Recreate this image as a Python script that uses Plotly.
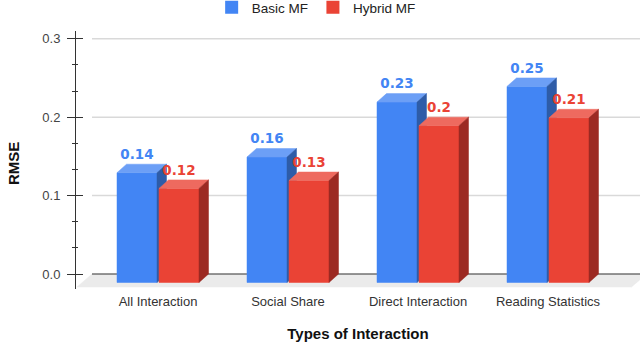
import plotly.graph_objects as go

categories = ["All Interaction", "Social Share", "Direct Interaction", "Reading Statistics"]
basic_mf = [0.14, 0.16, 0.23, 0.25]
hybrid_mf = [0.12, 0.13, 0.20, 0.21]
y_ticks = [0.0, 0.1, 0.2, 0.3]

# colours: front, top, side
BLUE = ("#4285F4", "#6C9FF6", "#2E5CA8")
RED = ("#EA4335", "#EE6A5F", "#9C2A23")
FONT = "Liberation Sans, Arial, sans-serif"

# pixel geometry of the fake 3d look
W, H = 640, 344
L, R, T, B = 76, 0, 31, 55
PX_X = 130.0   # px per category step
PX_Y = 784.3   # px per RMSE unit
ZERO_PX = 274  # screen row of 0.0
FIRST_PX = 158  # screen column of first category

x0 = -(FIRST_PX - L) / PX_X
x1 = x0 + (W - L - R) / PX_X
y1 = (ZERO_PX - T) / PX_Y
y0 = -(H - B - ZERO_PX) / PX_Y

bar_w = 40 / PX_X
gap = 2 / PX_X
dx = 9.5 / PX_X
dy = 8.5 / PX_Y
floor_dx = 15 / PX_X
floor_dy = 13 / PX_Y
back_left = x0 + 16 / PX_X
label_pad = 2 / PX_Y
plot_w, plot_h = W - L - R, H - T - B


def poly(xs, ys, color):
    return go.Scatter(x=xs + [xs[0]], y=ys + [ys[0]], mode="lines", fill="toself",
                      fillcolor=color, line=dict(color=color, width=0.5),
                      hoverinfo="skip", showlegend=False)


def add_bar(fig, xl, v, colors):
    xr = xl + bar_w
    fig.add_trace(poly([xl, xr, xr, xl], [-dy, -dy, v - dy, v - dy], colors[0]))
    fig.add_trace(poly([xl, xr, xr + dx, xl + dx], [v - dy, v - dy, v, v], colors[1]))
    fig.add_trace(poly([xr, xr + dx, xr + dx, xr], [-dy, 0, v, v - dy], colors[2]))


fig = go.Figure()

# floor
fig.add_trace(poly([back_left - floor_dx, back_left, x1 + 0.05, x1 + 0.05 - floor_dx],
                   [-floor_dy, 0, 0, -floor_dy], "#EBEBEB"))

# gridlines
gx, gy = [], []
for t in y_ticks[1:]:
    gx += [back_left, x1, None]
    gy += [t, t, None]
fig.add_trace(go.Scatter(x=gx, y=gy, mode="lines", line=dict(color="#D9D9D9", width=1.5),
                         hoverinfo="skip", showlegend=False))
fig.add_trace(go.Scatter(x=[back_left, x1], y=[0, 0], mode="lines",
                         line=dict(color="#333333", width=1.2), hoverinfo="skip", showlegend=False))

for i in range(len(categories)):
    add_bar(fig, i - gap / 2 - bar_w, basic_mf[i], BLUE)
    add_bar(fig, i + gap / 2, hybrid_mf[i], RED)

# value labels
fig.add_trace(go.Scatter(x=[i - gap / 2 - bar_w / 2 for i in range(len(categories))],
                         y=[v + label_pad for v in basic_mf],
                         mode="text", text=[f"{v:g}" for v in basic_mf], textposition="top center",
                         textfont=dict(family="DejaVu Sans", size=13.5, weight="bold", color=BLUE[0]),
                         hoverinfo="skip", showlegend=False))
fig.add_trace(go.Scatter(x=[i + gap / 2 + bar_w / 2 for i in range(len(categories))],
                         y=[v + label_pad for v in hybrid_mf],
                         mode="text", text=[f"{v:g}" for v in hybrid_mf], textposition="top center",
                         textfont=dict(family="DejaVu Sans", size=13.5, weight="bold", color=RED[0]),
                         hoverinfo="skip", showlegend=False))

# legend entries (a single point parked outside the visible x range)
for name, c in [("Basic MF", BLUE[0]), ("Hybrid MF", RED[0])]:
    fig.add_trace(go.Scatter(x=[x1 + 1], y=[0.1], mode="markers", name=name,
                             showlegend=True, hoverinfo="skip",
                             marker=dict(symbol="square", size=13, color=c)))

fig.update_layout(
    width=W, height=H,
    margin=dict(l=L, r=R, t=T, b=B, autoexpand=False),
    paper_bgcolor="white", plot_bgcolor="white",
    font=dict(family=FONT, color="#333333"),
    showlegend=True,
    legend=dict(orientation="h", xref="container", x=0.494, xanchor="center",
                yref="paper", y=1 + (T + 8) / plot_h, yanchor="top",
                font=dict(size=13.5, color="#222222"),
                itemwidth=30, bgcolor="rgba(0,0,0,0)"),
    xaxis=dict(range=[x0, x1], tickvals=list(range(len(categories))), ticktext=categories,
               ticks="", showline=False, showgrid=False, zeroline=False, ticklabelstandoff=3,
               tickfont=dict(size=13, color="#333333"),
               title=dict(text="<b>Types of Interaction</b>", font=dict(size=15, color="#111111"),
                          standoff=20)),
    yaxis=dict(range=[y0, y1], tickvals=y_ticks, ticktext=[f"{t:.1f}" for t in y_ticks],
               ticks="outside", ticklen=8, tickcolor="#333333", showline=True,
               linecolor="#333333", linewidth=1, showgrid=False, zeroline=False,
               ticklabelstandoff=4,
               minor=dict(tick0=0, dtick=0.1 / 3, ticks="outside", ticklen=3, tickcolor="#333333"),
               tickfont=dict(size=13, color="#444444")),
    yaxis2=dict(range=[y0, y1], overlaying="y", anchor="x", side="left", tickvals=y_ticks,
                ticks="inside", ticklen=7, tickcolor="#333333", showticklabels=False,
                showline=False, showgrid=False, zeroline=False,
                minor=dict(tick0=0, dtick=0.1 / 3, ticks="inside", ticklen=2, tickcolor="#333333")),
    annotations=[dict(text="<b>RMSE</b>", textangle=-90, showarrow=False,
                      xref="paper", yref="paper", x=(13 - L) / plot_w, y=(H - B - 164) / plot_h,
                      xanchor="center", yanchor="middle",
                      font=dict(size=15, color="#111111"))],
)
# put one invisible point on y2 so the overlaid tick axis is drawn
fig.add_trace(go.Scatter(x=[x1 + 1], y=[0.1], yaxis="y2", mode="markers", hoverinfo="skip",
                         showlegend=False, marker=dict(opacity=0)))

# the page body has a default margin; drop it so the chart sits at the window corner
fig.write_html("out.html", config={"displayModeBar": False},
               post_script="document.body.style.margin='0';")
